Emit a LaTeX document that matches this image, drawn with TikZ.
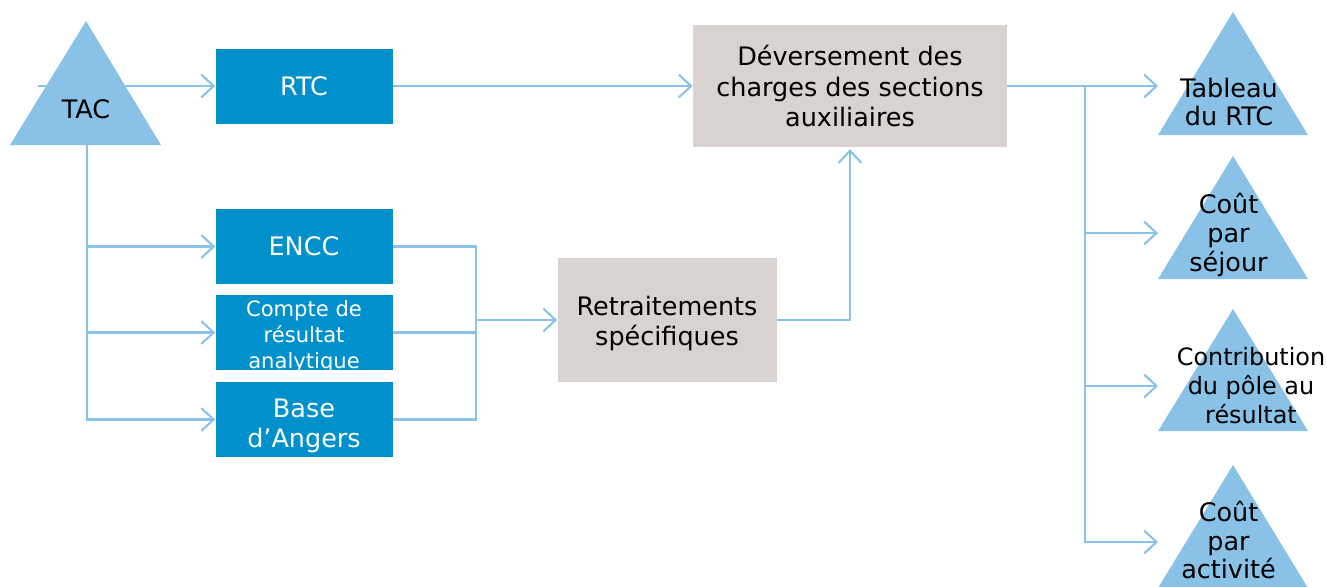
\documentclass[tikz,border=0pt]{standalone}
\usepackage{fontspec}
\setmainfont{DejaVu Sans}
\usetikzlibrary{arrows.meta}
\definecolor{lineblue}{HTML}{8BC3E7}
\definecolor{triblue}{HTML}{89C2E6}
\definecolor{boxblue}{HTML}{0091CD}
\definecolor{boxgrey}{HTML}{D8D3D1}
\newcommand\dropline[2]{\raisebox{-#1}[\height][\depth]{#2}}

\begin{document}
\begin{tikzpicture}[
    source/.style ={fill=boxblue, text=white, minimum width=3.54cm, minimum height=1.5cm,
                    align=center, font=\fontsize{14.5}{17}\selectfont, inner sep=0pt},
    process/.style ={fill=boxgrey, text=black, align=center,
                    font=\fontsize{14.5}{17.5}\selectfont, inner sep=0pt},
    tri/.style ={fill=triblue},
    label/.style ={align=center, font=\fontsize{14.5}{16.5}\selectfont, inner sep=0pt},
    link/.style ={draw=lineblue, line width=1.2pt},
    arr/.style ={link, -{Straight Barb[length=7pt,width=13pt,line width=1.2pt]}}]
   \useasboundingbox (0,0) rectangle (26.54,-11.72);

   % left side
   \coordinate (tacin) at (0.76,-1.72);
   \coordinate (tacbot) at (1.74,-2.9);
   \node[source] (RTC)  at (6.08,-1.72)  {RTC};
   \node[source] (ENCC) at (6.08,-4.93)  {ENCC};
   \node[source, font=\fontsize{12}{14.8}\selectfont] (CRA) at (6.08,-6.65)
      {\dropline{2.3pt}{Compte de}\\\dropline{2.3pt}{résultat}\\\dropline{2.3pt}{analytique}};
   \node[source] (BASE) at (6.08,-8.39)  {\dropline{3.5pt}{Base}\\\dropline{3.5pt}{d’Angers}};

   \draw[arr] (tacin) to (RTC);
   \fill[tri] (1.72,-0.42) -- (3.22,-2.9) -- (0.2,-2.9) -- cycle;
   \node[label] (TAC) at (1.72,-2.18) {TAC};
   \draw[arr] (tacbot) |- (ENCC);
   \draw[arr] (tacbot) |- (CRA);
   \draw[arr] (tacbot) |- (BASE);

   % middle
   \node[process, minimum width=4.38cm, minimum height=2.48cm] (RET) at (13.34,-6.4) {\rule{0pt}{15pt}Retraitements\\spécifiques};
   \node[process, minimum width=6.28cm, minimum height=2.44cm] (DEV) at (17.0,-1.72) {Déversement des\\charges des sections\\auxiliaires};
   \coordinate (join) at (9.52,-6.4);

   \draw[link] (ENCC.east) -| (join) |- (BASE.east);
   \draw[link] (CRA.east) to (CRA.east -| join);
   \draw[arr] (join) to (RET);
   \draw[arr] (RET.east) -| ([yshift=-1pt]DEV.south);
   \draw[arr] (RTC) to (DEV);

   % right side
   \coordinate (split) at (21.7,-1.72);
   \coordinate (in1) at (23.16,-1.72);
   \coordinate (in2) at (23.16,-4.66);
   \coordinate (in3) at (23.16,-7.72);
   \coordinate (in4) at (23.16,-10.84);

   \draw[arr] (DEV) to (in1);
   \draw[arr] (split) |- (in2);
   \draw[arr] (split) |- (in3);
   \draw[arr] (split) |- (in4);

   \fill[tri] (24.66,-0.24) -- (26.16,-2.7) -- (23.16,-2.7) -- cycle;
   \fill[tri] (24.66,-3.12) -- (26.16,-5.58) -- (23.16,-5.58) -- cycle;
   \fill[tri] (24.66,-6.18) -- (26.16,-8.62) -- (23.16,-8.62) -- cycle;
   \fill[tri] (24.66,-9.3) -- (26.16,-11.76) -- (23.16,-11.76) -- cycle;

   \node[label] (OUTA) at (24.58,-2.04) {Tableau\\du RTC};
   \node[label] (OUTB) at (24.57,-4.7) {Coût\\par\\séjour};
   \node[label, font=\fontsize{13.6}{16.5}\selectfont] (OUTC) at (25.02,-7.72) {Contribution\\du pôle au\\résultat};
   \node[label, font=\fontsize{14.5}{16}\selectfont] (OUTD) at (24.57,-10.8) {Coût\\par\\activité};
\end{tikzpicture}
\end{document}
